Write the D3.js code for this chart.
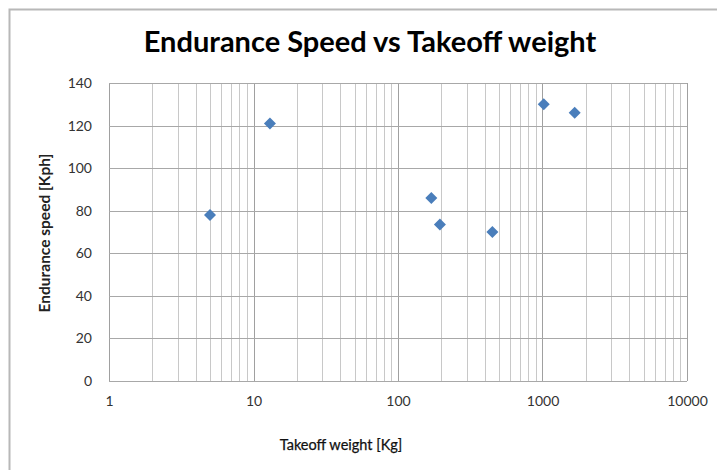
<!DOCTYPE html>
<html>
<head>
<meta charset="utf-8">
<script src="https://cdn.jsdelivr.net/npm/d3@7"></script>
<style>
  body { margin: 0; background: #fff; }
  text { font-family: Lato, "Open Sans", sans-serif; }
</style>
</head>
<body>
<div id="chart"></div>
<script>
// takeoff weight [Kg] and endurance speed [Kph]
const weights = [5, 13, 170, 195, 450, 1020, 1670];
const speeds = [78, 121, 86, 73.5, 70, 130, 126];
const xTicks = [1, 10, 100, 1000, 10000];
const yTicks = [0, 20, 40, 60, 80, 100, 120, 140];

const W = 717, H = 470;
const margin = { top: 83, right: 30, bottom: 89, left: 109 };
const width = W - margin.left - margin.right,
      height = H - margin.top - margin.bottom;

const svg = d3.select("#chart").append("svg")
  .attr("width", W)
  .attr("height", H);

// chart frame
svg.append("rect")
  .attr("x", 9.5).attr("y", 9.5)
  .attr("width", W + 20).attr("height", H + 20)
  .attr("fill", "none")
  .attr("stroke", "#b8b8b8")
  .attr("stroke-width", 2);

const x = d3.scaleLog().domain([1, 10000]).range([0, width]);
const y = d3.scaleLinear().domain([0, 140]).range([height, 0]);

const g = svg.append("g")
  .attr("transform", `translate(${margin.left},${margin.top})`);

// minor vertical gridlines (2..9 in each decade)
const minor = [];
for (let d = 1; d < 10000; d *= 10)
  for (let k = 2; k <= 9; k++) minor.push(d * k);

g.append("g").selectAll("line")
  .data(minor)
  .join("line")
  .attr("x1", d => Math.round(x(d)) + 0.5).attr("x2", d => Math.round(x(d)) + 0.5)
  .attr("y1", 0).attr("y2", height)
  .attr("stroke", "#c8c8c8");

// major gridlines
g.append("g").selectAll("line")
  .data(xTicks)
  .join("line")
  .attr("x1", d => Math.round(x(d)) + 0.5).attr("x2", d => Math.round(x(d)) + 0.5)
  .attr("y1", 0).attr("y2", height)
  .attr("stroke", "#a0a0a0");

g.append("g").selectAll("line")
  .data(yTicks)
  .join("line")
  .attr("x1", 0).attr("x2", width)
  .attr("y1", d => Math.round(y(d)) + 0.5).attr("y2", d => Math.round(y(d)) + 0.5)
  .attr("stroke", "#a8a8a8");

// axes labels
const xAxis = d3.axisBottom(x).tickValues(xTicks).tickFormat(d3.format("d")).tickSize(0).tickPadding(15);
g.append("g")
  .attr("transform", `translate(0,${height})`)
  .call(xAxis)
  .call(s => s.select(".domain").remove())
  .selectAll("text")
  .attr("font-size", 14)
  .attr("fill", "#333")
  .style("font-family", "Lato, sans-serif");

const yAxis = d3.axisLeft(y).tickValues(yTicks).tickSize(0).tickPadding(17);
g.append("g")
  .call(yAxis)
  .call(s => s.select(".domain").remove())
  .selectAll("text")
  .attr("font-size", 14)
  .attr("fill", "#333")
  .style("font-family", "Lato, sans-serif");

// points
const pts = weights.map((w, i) => ({ w, s: speeds[i] }));
g.append("g").selectAll("path")
  .data(pts)
  .join("path")
  .attr("transform", d => `translate(${x(d.w)},${y(d.s)})`)
  .attr("d", "M0,-6L6,0L0,6L-6,0Z")
  .attr("fill", "#4a7ebb");

// titles
svg.append("text")
  .attr("x", 370).attr("y", 52)
  .attr("text-anchor", "middle")
  .attr("font-size", 29)
  .attr("font-weight", "bold")
  .text("Endurance Speed vs Takeoff weight");

svg.append("text")
  .attr("x", 341).attr("y", 450)
  .attr("text-anchor", "middle")
  .attr("font-size", 14.5)
  .attr("fill", "#111")
  .attr("stroke", "#111")
  .attr("stroke-width", 0.25)
  .text("Takeoff weight [Kg]");

svg.append("text")
  .attr("transform", `translate(50,${margin.top + 150}) rotate(-90)`)
  .attr("text-anchor", "middle")
  .attr("font-size", 15.5)
  .attr("font-weight", "bold")
  .attr("fill", "#222")
  .text("Endurance speed [Kph]");
</script>
</body>
</html>
